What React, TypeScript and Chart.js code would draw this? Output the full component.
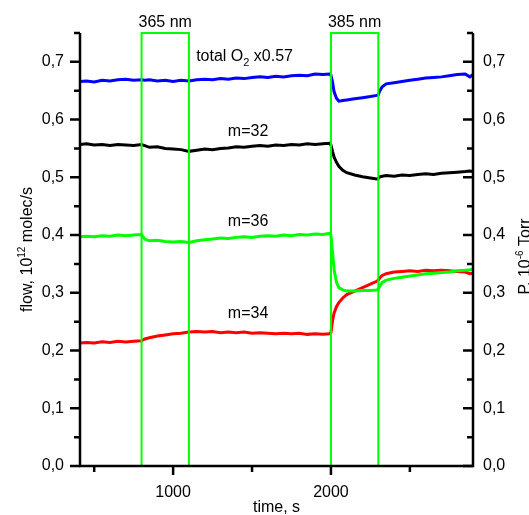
import React, { useEffect, useRef } from "react";
import { Chart, registerables } from "chart.js";

Chart.register(...registerables);

// ---- data ----
const time = [
  410, 450, 500, 550, 600, 650, 700, 750, 800, 820, 850, 900, 950, 1000, 1050, 1100,
  1150, 1200, 1250, 1300, 1350, 1400, 1450, 1500, 1550, 1600, 1650, 1700, 1750, 1800,
  1850, 1900, 1950, 1990, 2000, 2010, 2020, 2035, 2050, 2075, 2100, 2150, 2200, 2250,
  2290, 2300, 2310, 2325, 2350, 2400, 2450, 2500, 2550, 2600, 2650, 2700, 2750, 2800,
  2850, 2880, 2900,
];

const totalO2 = [
  0.666, 0.667, 0.665, 0.668, 0.667, 0.669, 0.670, 0.668, 0.669, 0.668, 0.669, 0.667,
  0.668, 0.666, 0.668, 0.667, 0.669, 0.670, 0.669, 0.671, 0.670, 0.672, 0.671, 0.673,
  0.674, 0.673, 0.675, 0.674, 0.676, 0.677, 0.676, 0.679, 0.678, 0.679, 0.677, 0.665,
  0.648, 0.637, 0.632, 0.633, 0.634, 0.636, 0.638, 0.640, 0.642, 0.643, 0.650, 0.657,
  0.662, 0.664, 0.666, 0.668, 0.670, 0.672, 0.673, 0.674, 0.676, 0.678, 0.679, 0.674,
  0.678,
];

const m32 = [
  0.557, 0.558, 0.556, 0.557, 0.555, 0.557, 0.556, 0.555, 0.557, 0.555, 0.552, 0.553,
  0.550, 0.549, 0.548, 0.545, 0.547, 0.549, 0.548, 0.550, 0.551, 0.553, 0.552, 0.554,
  0.555, 0.554, 0.556, 0.555, 0.557, 0.556, 0.558, 0.557, 0.558, 0.559, 0.556, 0.545,
  0.535, 0.526, 0.519, 0.512, 0.508, 0.504, 0.501, 0.499, 0.497, 0.498, 0.501, 0.502,
  0.503, 0.502, 0.504, 0.503, 0.505, 0.506, 0.505, 0.507, 0.508, 0.509, 0.510, 0.511,
  0.510,
];

const m36 = [
  0.397, 0.398, 0.397, 0.399, 0.398, 0.400, 0.399, 0.400, 0.401, 0.393, 0.390, 0.391,
  0.389, 0.388, 0.389, 0.387, 0.390, 0.392, 0.393, 0.395, 0.394, 0.396, 0.397, 0.396,
  0.398, 0.399, 0.398, 0.400, 0.399, 0.401, 0.400, 0.402, 0.401, 0.403, 0.400, 0.370,
  0.340, 0.318, 0.309, 0.305, 0.303, 0.303, 0.304, 0.304, 0.305, 0.306, 0.312, 0.318,
  0.322, 0.325, 0.327, 0.329, 0.331, 0.333, 0.334, 0.335, 0.336, 0.338, 0.339, 0.340,
  0.341,
];

const m34 = [
  0.213, 0.214, 0.213, 0.215, 0.214, 0.216, 0.215, 0.216, 0.217, 0.220, 0.222, 0.225,
  0.227, 0.229, 0.230, 0.232, 0.233, 0.232, 0.233, 0.231, 0.232, 0.231, 0.232, 0.230,
  0.231, 0.230, 0.229, 0.230, 0.229, 0.230, 0.228, 0.229, 0.228, 0.229, 0.231, 0.252,
  0.265, 0.276, 0.283, 0.291, 0.297, 0.303, 0.309, 0.315, 0.320, 0.322, 0.326, 0.330,
  0.333, 0.336, 0.337, 0.338, 0.337, 0.339, 0.338, 0.339, 0.338, 0.337, 0.336, 0.333,
  0.334,
];

const lampStart = [800, 2000];
const lampEnd = [1100, 2300];
const lampLabels = ["365 nm", "385 nm"];

const yMajorTicks = [0, 0.1, 0.2, 0.3, 0.4, 0.5, 0.6, 0.7];
const yTickLabels = ["0,0", "0,1", "0,2", "0,3", "0,4", "0,5", "0,6", "0,7"];
const yMinorTicks = [0.05, 0.15, 0.25, 0.35, 0.45, 0.55, 0.65, 0.75];
const xMajorTicks = [1000, 2000];
const xTickLabels = ["1000", "2000"];
const xMinorTicks = [500, 1500, 2500];

const X_MIN = 410;
const X_MAX = 2900;
const Y_MIN = 0;
const Y_MAX = 0.75;

// ---- styling ----
const FONT = '"Liberation Sans", Arial, Helvetica, sans-serif';
const LIME = "#00ff00";

type Part = { text: string; size: number; dy: number };

function partsWidth(ctx: CanvasRenderingContext2D, parts: Part[]) {
  let w = 0;
  for (const p of parts) {
    ctx.font = `${p.size}px ${FONT}`;
    w += ctx.measureText(p.text).width;
  }
  return w;
}

function drawParts(
  ctx: CanvasRenderingContext2D,
  parts: Part[],
  x: number,
  y: number,
  align: "left" | "center"
) {
  const w = partsWidth(ctx, parts);
  let cx = align === "center" ? x - w / 2 : x;
  ctx.textAlign = "left";
  ctx.textBaseline = "alphabetic";
  for (const p of parts) {
    ctx.font = `${p.size}px ${FONT}`;
    ctx.fillText(p.text, cx, y + p.dy);
    cx += ctx.measureText(p.text).width;
  }
}

const axesPlugin = {
  id: "customAxes",
  afterDatasetsDraw(chart: any) {
    const { ctx, chartArea: a, scales } = chart;
    const xs = scales.x;
    const ys = scales.y;
    ctx.save();
    ctx.strokeStyle = "#000";
    ctx.fillStyle = "#000";
    ctx.lineWidth = 2.5;

    // axis lines (left, bottom, right)
    ctx.beginPath();
    ctx.moveTo(a.left, a.top);
    ctx.lineTo(a.left, a.bottom);
    ctx.lineTo(a.right, a.bottom);
    ctx.lineTo(a.right, a.top);
    ctx.stroke();

    // y ticks
    ctx.beginPath();
    for (const v of yMajorTicks) {
      const y = ys.getPixelForValue(v);
      ctx.moveTo(a.left - 10, y);
      ctx.lineTo(a.left, y);
      ctx.moveTo(a.right, y);
      ctx.lineTo(a.right - 10, y);
    }
    for (const v of yMinorTicks) {
      const y = ys.getPixelForValue(v);
      ctx.moveTo(a.left - 6, y);
      ctx.lineTo(a.left, y);
      ctx.moveTo(a.right, y);
      ctx.lineTo(a.right - 6, y);
    }
    // x ticks
    for (const v of xMajorTicks) {
      const x = xs.getPixelForValue(v);
      ctx.moveTo(x, a.bottom);
      ctx.lineTo(x, a.bottom + 9);
    }
    for (const v of xMinorTicks) {
      const x = xs.getPixelForValue(v);
      ctx.moveTo(x, a.bottom);
      ctx.lineTo(x, a.bottom + 6);
    }
    ctx.stroke();

    // tick labels
    ctx.font = `16px ${FONT}`;
    ctx.textBaseline = "middle";
    yMajorTicks.forEach((v, i) => {
      const y = ys.getPixelForValue(v);
      ctx.textAlign = "right";
      ctx.fillText(yTickLabels[i], a.left - 16, y);
      ctx.textAlign = "left";
      ctx.fillText(yTickLabels[i], a.right + 10, y);
    });
    ctx.textAlign = "center";
    ctx.textBaseline = "alphabetic";
    xMajorTicks.forEach((v, i) => {
      ctx.fillText(xTickLabels[i], xs.getPixelForValue(v), a.bottom + 31);
    });

    // x title
    ctx.fillText("time, s", (a.left + a.right) / 2, a.bottom + 46);

    // left title
    ctx.save();
    ctx.translate(a.left - 48, (a.top + a.bottom) / 2);
    ctx.rotate(-Math.PI / 2);
    drawParts(
      ctx,
      [
        { text: "flow, 10", size: 16, dy: 0 },
        { text: "12", size: 10, dy: -7 },
        { text: " molec/s", size: 16, dy: 0 },
      ],
      0,
      0,
      "center"
    );
    ctx.restore();

    // right title
    ctx.save();
    ctx.translate(a.right + 57, (a.top + a.bottom) / 2 + 7);
    ctx.rotate(-Math.PI / 2);
    drawParts(
      ctx,
      [
        { text: "P, 10", size: 16, dy: 0 },
        { text: "-6", size: 10, dy: -7 },
        { text: " Torr", size: 16, dy: 0 },
      ],
      0,
      0,
      "center"
    );
    ctx.restore();

    // lamp labels
    lampLabels.forEach((t, i) => {
      const cx = (xs.getPixelForValue(lampStart[i]) + xs.getPixelForValue(lampEnd[i])) / 2;
      drawParts(ctx, [{ text: t, size: 16, dy: 0 }], cx, a.top - 6, "center");
    });

    // series labels
    drawParts(
      ctx,
      [
        { text: "total O", size: 16, dy: 0 },
        { text: "2", size: 11, dy: 5 },
        { text: " x0.57", size: 16, dy: 0 },
      ],
      xs.getPixelForValue(1146),
      ys.getPixelForValue(0.701),
      "left"
    );
    drawParts(ctx, [{ text: "m=32", size: 16, dy: 0 }], xs.getPixelForValue(1475), ys.getPixelForValue(0.572), "center");
    drawParts(ctx, [{ text: "m=36", size: 16, dy: 0 }], xs.getPixelForValue(1475), ys.getPixelForValue(0.416), "center");
    drawParts(ctx, [{ text: "m=34", size: 16, dy: 0 }], xs.getPixelForValue(1475), ys.getPixelForValue(0.256), "center");

    ctx.restore();
  },
};

function series(values: number[]) {
  return values.map((v, i) => ({ x: time[i], y: v }));
}

export default function App() {
  const canvasRef = useRef<HTMLCanvasElement | null>(null);

  useEffect(() => {
    const canvas = canvasRef.current;
    if (!canvas) return;

    const lampDatasets = lampStart.map((s, i) => ({
      label: lampLabels[i],
      data: [
        { x: s, y: Y_MIN },
        { x: s, y: Y_MAX },
        { x: lampEnd[i], y: Y_MAX },
        { x: lampEnd[i], y: Y_MIN },
      ],
      borderColor: LIME,
      borderWidth: 2,
      pointRadius: 0,
      tension: 0,
      clip: false as any,
      fill: false,
    }));

    const lineStyle = (color: string) => ({
      borderColor: color,
      backgroundColor: color,
      borderWidth: 3,
      pointRadius: 0,
      tension: 0,
      fill: false,
    });

    const chart = new Chart(canvas, {
      type: "line",
      data: {
        datasets: [
          ...lampDatasets,
          { label: "total O2 x0.57", data: series(totalO2), ...lineStyle("#0000ff") },
          { label: "m=32", data: series(m32), ...lineStyle("#000000") },
          { label: "m=36", data: series(m36), ...lineStyle("#00ff00") },
          { label: "m=34", data: series(m34), ...lineStyle("#ff0000") },
        ],
      },
      options: {
        animation: false,
        responsive: false,
        maintainAspectRatio: false,
        events: [],
        layout: { padding: { left: 80, right: 56, top: 33, bottom: 49 } },
        plugins: { legend: { display: false }, tooltip: { enabled: false } },
        scales: {
          x: { type: "linear", min: X_MIN, max: X_MAX, display: false },
          y: { type: "linear", min: Y_MIN, max: Y_MAX, display: false },
        },
      },
      plugins: [axesPlugin],
    });

    return () => chart.destroy();
  }, []);

  return (
    <div style={{ position: "absolute", left: 0, top: 0, width: 529, height: 515, background: "#fff" }}>
      <canvas ref={canvasRef} width={529} height={515} style={{ display: "block" }} />
    </div>
  );
}
